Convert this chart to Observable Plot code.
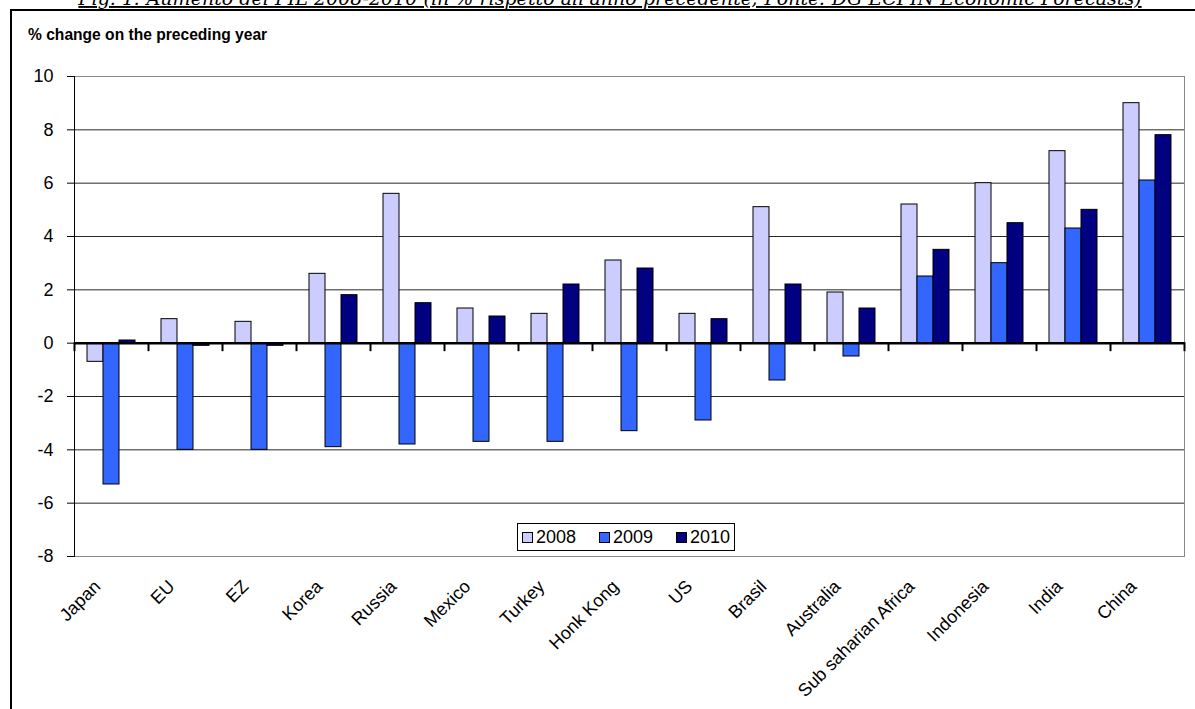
<!DOCTYPE html>
<html>
<head>
<meta charset="utf-8">
<script src="https://cdn.jsdelivr.net/npm/d3@7"></script>
<script src="https://cdn.jsdelivr.net/npm/@observablehq/plot@0.6"></script>
<style>
  html, body { margin: 0; padding: 0; background: #fff; }
  #wrap { position: relative; width: 1195px; height: 709px; overflow: hidden; background: #fff; font-family: "Liberation Sans", Arial, sans-serif; }
  #frame { position: absolute; left: 10px; top: 9px; width: 1300px; height: 800px; border-left: 2px solid #000; border-top: 2px solid #000; box-sizing: border-box; }
  #subtitle { position: absolute; left: 28px; top: 26px; font-weight: bold; font-size: 15.6px; color: #000; }
  #chart { position: absolute; left: 0; top: 0; }
  #legend { position: absolute; left: 517px; top: 523px; width: 218px; height: 28px; padding: 0 4px; border: 1px solid #000; background: #fff; display: flex; align-items: center; justify-content: space-between; font-size: 18px; box-sizing: border-box; }
  #legend .item { display: flex; align-items: center; gap: 3px; }
  #legend .sw { width: 11px; height: 11px; border: 1px solid #000; box-sizing: border-box; }
  #titlesvg { position: absolute; left: 0; top: 0; }
</style>
</head>
<body>
<div id="wrap">
  <svg id="titlesvg" width="1195" height="20"></svg>
  <div id="frame"></div>
  <div id="chart"></div>
  <div id="subtitle">% change on the preceding year</div>
  <div id="legend"></div>
</div>
<script>
const titleText = "Fig. 1: Aumento del PIL 2008-2010 (in % rispetto all'anno precedente; Fonte: DG ECFIN Economic Forecasts)";
const countries = ["Japan", "EU", "EZ", "Korea", "Russia", "Mexico", "Turkey", "Honk Kong", "US", "Brasil", "Australia", "Sub saharian Africa", "Indonesia", "India", "China"];
const years = ["2008", "2009", "2010"];
const v2008 = [-0.7, 0.9, 0.8, 2.6, 5.6, 1.3, 1.1, 3.1, 1.1, 5.1, 1.9, 5.2, 6.0, 7.2, 9.0];
const v2009 = [-5.3, -4.0, -4.0, -3.9, -3.8, -3.7, -3.7, -3.3, -2.9, -1.4, -0.5, 2.5, 3.0, 4.3, 6.1];
const v2010 = [0.1, -0.1, -0.1, 1.8, 1.5, 1.0, 2.2, 2.8, 0.9, 2.2, 1.3, 3.5, 4.5, 5.0, 7.8];
const yTicks = [-8, -6, -4, -2, 0, 2, 4, 6, 8, 10];
const colors = ["#CCCCFF", "#3366FF", "#000080"];

const series = [v2008, v2009, v2010];
const data = countries.flatMap((c, i) => years.map((y, k) => ({country: c, year: y, value: series[k][i]})));

// Title (clipped at top as in the reference)
const tsvg = d3.select("#titlesvg");
const tt = tsvg.append("text")
  .attr("x", 610).attr("y", 5)
  .attr("text-anchor", "middle")
  .attr("font-family", "'DejaVu Serif', 'Liberation Serif', serif")
  .attr("font-style", "italic")
  .attr("font-size", 17)
  .attr("text-decoration", "underline")
  .text(titleText);
const tw = tt.node().getComputedTextLength();
tt.attr("font-size", 17 * 1064 / tw);

const W = 1195, H = 709, mL = 70, mR = 7, mT = 76, mB = 153;
const innerH = H - mT - mB;
const yMax = yTicks[yTicks.length - 1], yMin = yTicks[0];
const zeroOffset = innerH * yMax / (yMax - yMin);

const chart = Plot.plot({
  width: W, height: H,
  marginLeft: mL, marginRight: mR, marginTop: mT, marginBottom: mB,
  style: {fontFamily: "'Liberation Sans', Arial, sans-serif", fontSize: "18px", color: "#000", background: "transparent"},
  fx: {domain: countries, padding: 0, label: null},
  x: {domain: years, paddingInner: 0, paddingOuter: 0.73, axis: null},
  y: {domain: [yMin, yMax], label: null},
  color: {domain: years, range: colors},
  marks: [
    Plot.gridY(yTicks.filter(t => t > yMin && t < yMax && t !== 0), {stroke: "#000", strokeOpacity: 0.85, strokeWidth: 1}),
    Plot.frame({anchor: "top", stroke: "#888", strokeWidth: 1}),
    Plot.frame({anchor: "bottom", stroke: "#888", strokeWidth: 1}),
    Plot.frame({anchor: "right", stroke: "#888", strokeWidth: 1, facetAnchor: "right"}),
    Plot.barY(data, {fx: "country", x: "year", y: "value", fill: "year", stroke: "#000", strokeWidth: 1}),
    Plot.ruleY([0], {stroke: "#000", strokeWidth: 2.5}),
    Plot.frame({anchor: "left", stroke: "#000", strokeWidth: 2, insetTop: zeroOffset, insetBottom: innerH - zeroOffset - 7}),
    Plot.frame({anchor: "right", stroke: "#000", strokeWidth: 2, insetTop: zeroOffset, insetBottom: innerH - zeroOffset - 7, facetAnchor: "right"}),
    Plot.frame({anchor: "left", stroke: "#000", strokeWidth: 1, facetAnchor: "left"}),
    Plot.axisY({ticks: yTicks, tickFormat: d => String(d), tickSize: 7, tickPadding: 14, fontSize: 18, anchor: "left", label: null}),
    Plot.axisFx({anchor: "bottom", tickRotate: -45, tickSize: 0, tickPadding: 27, fontSize: 18, label: null, dx: -14})
  ]
});
document.getElementById("chart").appendChild(chart);

// Legend
const legend = d3.select("#legend");
years.forEach((y, k) => {
  const it = legend.append("div").attr("class", "item");
  it.append("div").attr("class", "sw").style("background", colors[k]);
  it.append("span").text(y);
});
</script>
</body>
</html>
